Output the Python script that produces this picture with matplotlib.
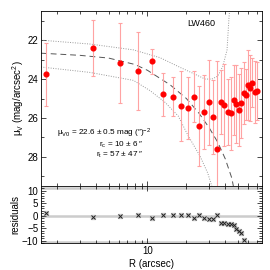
import numpy as np
import matplotlib
matplotlib.use('Agg')
from matplotlib import pyplot as plt

plt.rcParams['font.family'] = ['Liberation Sans', 'DejaVu Sans']
plt.rcParams['mathtext.fontset'] = 'custom'
plt.rcParams['mathtext.rm'] = 'Liberation Sans'
plt.rcParams['mathtext.it'] = 'Liberation Sans'

# surface brightness profile (R in arcsec, mag/arcsec^2)
r_data = [1.64, 3.79, 6.15, 8.44, 10.8, 13.3, 15.7, 18.1, 20.5, 22.9, 25.2, 27.5,
          29.9, 32.3, 34.7, 37.0, 39.3, 41.7, 44.0, 46.4, 48.6, 51.0, 53.1, 55.5,
          57.4, 60.1, 62.4, 65.0, 67.4, 69.9]
mu_data = [23.76, 22.40, 23.16, 23.59, 23.09, 24.78, 24.90, 25.38, 25.49, 24.90, 26.42, 25.69,
           25.20, 25.94, 27.58, 25.20, 25.35, 25.69, 25.77, 25.07, 25.30, 25.59, 25.23, 24.73,
           24.80, 24.28, 24.45, 24.18, 24.66, 24.63]
mu_err = [1.6, 1.45, 2.05, 2.0, 0.65, 1.1, 1.0, 1.8, 1.6, 1.3, 2.05, 1.9,
          2.2, 1.9, 4.5, 1.65, 2.1, 1.7, 1.9, 1.8, 2.0, 1.85, 1.8, 1.6,
          1.3, 1.8, 1.7, 1.25, 1.6, 1.5]

# King fit and its envelopes
r_fit = [1.5, 3, 5, 8, 10, 15, 20, 25, 30, 35, 40, 45, 46.5]
mu_fit = [22.67, 22.78, 22.92, 23.25, 23.55, 24.3, 25.0, 25.75, 26.5, 27.25, 28.1, 29.1, 29.6]
r_hi = [1.5, 3.6, 7.8, 12.5, 17.9, 23.3, 27.9, 31.5, 35.0, 38.3, 41.3, 42.7, 43.3]
mu_hi = [22.0, 22.2, 22.5, 22.9, 23.4, 23.75, 24.0, 24.0, 23.85, 23.35, 22.5, 20.9, 20.4]
r_lo = [1.5, 3.6, 7.8, 10.5, 13.7, 17.3, 20.6, 25.5, 29.3, 31.8]
mu_lo = [23.38, 23.66, 24.07, 24.6, 25.2, 25.9, 26.9, 27.96, 28.84, 29.6]

# residuals (data - model)
r_res = [1.64, 3.79, 6.15, 8.44, 10.8, 13.3, 15.7, 18.1, 20.5, 22.9, 25.2, 27.5,
         29.9, 32.3, 34.7, 37.0, 39.3, 41.7, 44.0, 46.4, 48.6, 51.0, 53.1, 55.5]
res = [1.1, -0.5, -0.15, 0.1, -1.0, 0.5, 0.25, 0.4, 0.25, -0.8, 0.4, -0.8,
       -1.5, -1.2, 0.1, -2.9, -3.0, -3.2, -3.2, -3.9, -5.3, -6.0, -7.0, -9.7]

fig = plt.figure(figsize=(2.7, 2.7), dpi=100)
ax1 = fig.add_axes([41/270, 84/270, 221/270, 175/270])
ax2 = fig.add_axes([41/270, 27/270, 221/270, 57/270])

ax1.errorbar(r_data, mu_data, yerr=mu_err, fmt='o', color='red', ms=3.4, mec='red',
             ecolor='#ffa3a3', elinewidth=0.8, capsize=1.5, capthick=0.8, zorder=3)
ax1.plot(r_fit, mu_fit, color='#555555', lw=0.7, ls=(0, (6, 4)))
ax1.plot(r_hi, mu_hi, color='#999999', lw=0.7, ls=(0, (1, 1.5)))
ax1.plot(r_lo, mu_lo, color='#999999', lw=0.7, ls=(0, (1, 1.5)))

for ax in (ax1, ax2):
    ax.set_xscale('log')
    ax.set_xlim(1.5, 77)
    ax.set_xticks([10])
    ax.set_xticks([2, 3, 4, 5, 6, 7, 8, 9, 20, 30, 40, 50, 60, 70], minor=True)
    ax.tick_params(which='both', direction='in', top=True, right=True,
                   width=0.5, labelsize=7, pad=2)
    ax.tick_params(which='major', length=3.5)
    ax.tick_params(which='minor', length=2.5)
    for s in ax.spines.values():
        s.set_linewidth(0.6)

ax1.set_ylim(29.5, 20.5)
ax1.set_yticks([22, 24, 26, 28])
ax1.set_yticks([21, 23, 25, 27, 29], minor=True)
ax1.set_xticklabels([])
ax1.xaxis.set_minor_formatter(plt.NullFormatter())
ax1.set_ylabel(r'$\mu_{\rm V}$ (mag/arcsec$^2$)', fontsize=7, labelpad=1)

ax1.text(0.724, 0.926, 'LW460', transform=ax1.transAxes, fontsize=6.5,
         ha='center', va='center')
ax1.text(151 / 270, 1 - 133.5 / 270, r'$\mu_{\rm V0}$ = 22.6 ± 0.5 mag (″)$^{-2}$',
         transform=fig.transFigure, fontsize=5.9, ha='right', va='center')
ax1.text(144 / 270, 1 - 144.5 / 270, r'r$_{\rm c}$ = 10 ± 6 ″',
         transform=fig.transFigure, fontsize=5.9, ha='right', va='center')
ax1.text(144 / 270, 1 - 154.5 / 270, r'r$_{\rm t}$ = 57 ± 47 ″',
         transform=fig.transFigure, fontsize=5.9, ha='right', va='center')

ax2.axhline(0, color='#cccccc', lw=1.8, zorder=1)
ax2.axhline(11, color='#cccccc', lw=1.8, zorder=1)
ax2.axhline(-10.6, color='#cccccc', lw=1.8, zorder=1)
ax2.plot(r_res, res, ls='none', marker='s', ms=3.0, color='#cccccc', zorder=2)
ax2.plot(r_res, res, ls='none', marker='x', ms=2.2, mew=0.7, color='#222222', zorder=3)
ax2.set_ylim(-11, 12)
ax2.set_yticks([-10, -5, 0, 5, 10])
ax2.set_yticklabels(['\u221210', '\u22125', '0', '5', '10'])
ax2.set_yticks(np.arange(-11, 12, 1), minor=True)
ax2.set_xticklabels(['10'])
ax2.xaxis.set_minor_formatter(plt.NullFormatter())
ax2.set_xlabel('R (arcsec)', fontsize=7, labelpad=2)
ax2.set_ylabel('residuals', fontsize=7, labelpad=1)

fig.savefig('out.png', dpi=100)
